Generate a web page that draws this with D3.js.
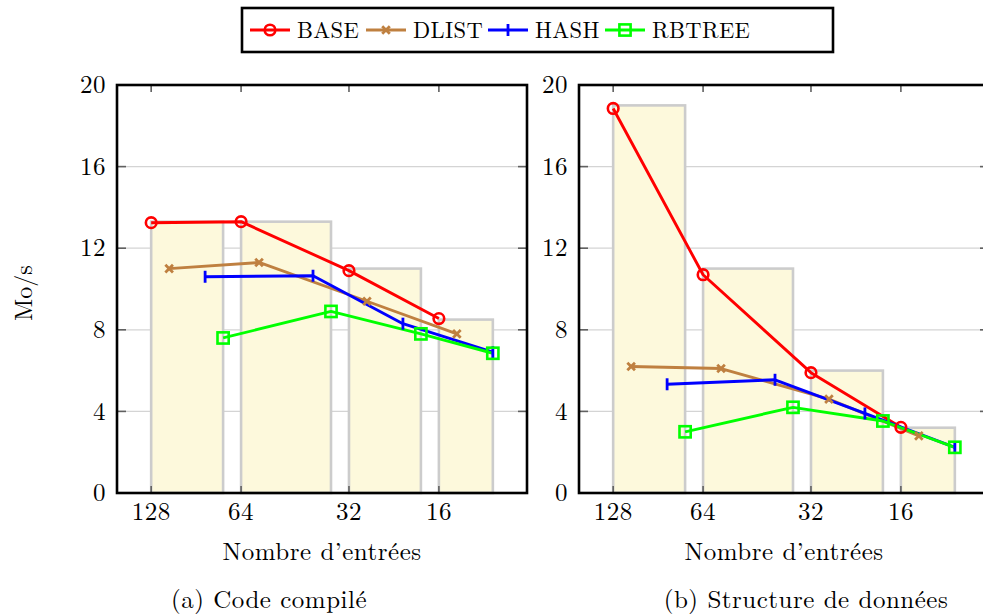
<!DOCTYPE html>
<html>
<head>
<meta charset="utf-8">
<script src="https://cdn.jsdelivr.net/npm/d3@7"></script>
<style>
  html, body { margin: 0; padding: 0; background: #fff; }
  svg { display: block; }
</style>
</head>
<body>
<svg id="chart" width="983" height="615"></svg>
<script>
// Group positions on the x axis (one slot per series inside each group)
const groupTicks = [0, 5, 11, 16];
const tickLabels = ["128", "64", "32", "16"];
const basePos   = [0, 5, 11, 16];
const dlistPos  = [1, 6, 12, 17];
const hashPos   = [3, 9, 14, 19];
const rbtreePos = [4, 10, 15, 19];

// Background bars: one per group, spanning the group
const barStart = [0, 5, 11, 16];
const barEnd   = [4, 10, 15, 19];
const barsCompiled = [13.3, 13.3, 11.0, 8.5];
const barsStruct   = [19.0, 11.0, 6.0, 3.2];

// Throughput (Mo/s) — (a) compiled code
const baseA   = [13.25, 13.3, 10.9, 8.55];
const dlistA  = [11.0, 11.3, 9.4, 7.8];
const hashA   = [10.6, 10.65, 8.3, 6.9];
const rbtreeA = [7.6, 8.9, 7.8, 6.85];

// Throughput (Mo/s) — (b) data structure
const baseB   = [18.85, 10.7, 5.9, 3.22];
const dlistB  = [6.2, 6.1, 4.6, 2.8];
const hashB   = [5.33, 5.55, 3.9, 2.24];
const rbtreeB = [3.0, 4.2, 3.53, 2.24];

const yTicks = [0, 4, 8, 12, 16, 20];

const seriesNames = ["BASE", "DLIST", "HASH", "RBTREE"];
const seriesColors = ["#ff0000", "#bf8040", "#0000ff", "#00ff00"];
const seriesMarks = ["circle", "cross", "bar", "square"];
const seriesPos = [basePos, dlistPos, hashPos, rbtreePos];

const FONT = '"Latin Modern Roman", "Liberation Serif", serif';
const FS = 25;

const svg = d3.select("#chart");

function label(sel, size, spacing) {
  return sel.style("font-family", FONT).style("font-size", size + "px")
    .style("letter-spacing", (spacing || 0) + "px").attr("fill", "#000");
}

function drawMark(g, type, color, x, y) {
  if (type === "circle") {
    g.append("circle").attr("cx", x).attr("cy", y).attr("r", 5.3)
      .attr("fill", "none").attr("stroke", color).attr("stroke-width", 2.6);
  } else if (type === "cross") {
    const s = 3.8;
    g.append("path")
      .attr("d", `M${x - s},${y - s}L${x + s},${y + s}M${x - s},${y + s}L${x + s},${y - s}`)
      .attr("stroke", color).attr("stroke-width", 2.8).attr("fill", "none");
  } else if (type === "bar") {
    g.append("line").attr("x1", x).attr("x2", x).attr("y1", y - 6).attr("y2", y + 6)
      .attr("stroke", color).attr("stroke-width", 2.8);
  } else if (type === "square") {
    g.append("rect").attr("x", x - 5.6).attr("y", y - 5.6).attr("width", 11.2).attr("height", 11.2)
      .attr("fill", "none").attr("stroke", color).attr("stroke-width", 2.6);
  }
}

function panel(left, barVals, seriesVals, caption, captionX) {
  const top = 85, bottom = 493, width = 410;
  const x = d3.scaleLinear().domain([-1.9, 20.9]).range([left, left + width]);
  const y = d3.scaleLinear().domain([0, 20]).range([bottom, top]);
  const g = svg.append("g");

  // horizontal grid
  g.append("g").selectAll("line").data(yTicks.filter(t => t > 0 && t < 20)).join("line")
    .attr("x1", left).attr("x2", left + width)
    .attr("y1", d => y(d)).attr("y2", d => y(d))
    .attr("stroke", "#d4d4d4").attr("stroke-width", 1.3);

  // bars
  g.append("g").selectAll("rect").data(barVals).join("rect")
    .attr("x", (d, i) => x(barStart[i]))
    .attr("width", (d, i) => x(barEnd[i]) - x(barStart[i]))
    .attr("y", d => y(d))
    .attr("height", d => y(0) - y(d))
    .attr("fill", "#fdf9dc").attr("stroke", "#cccccc").attr("stroke-width", 2.6);

  // tick marks (inside, all four sides)
  const tk = g.append("g").attr("stroke", "#606060").attr("stroke-width", 1.6);
  yTicks.filter(t => t > 0 && t < 20).forEach(t => {
    tk.append("line").attr("x1", left).attr("x2", left + 9).attr("y1", y(t)).attr("y2", y(t));
    tk.append("line").attr("x1", left + width - 9).attr("x2", left + width).attr("y1", y(t)).attr("y2", y(t));
  });
  groupTicks.forEach(t => {
    tk.append("line").attr("x1", x(t)).attr("x2", x(t)).attr("y1", bottom).attr("y2", bottom - 7);
    tk.append("line").attr("x1", x(t)).attr("x2", x(t)).attr("y1", top).attr("y2", top + 7);
  });

  // lines
  const line = d3.line().x(d => x(d[0])).y(d => y(d[1]));
  seriesVals.forEach((vals, s) => {
    const pts = vals.map((v, i) => [seriesPos[s][i], v]);
    g.append("path").datum(pts).attr("d", line)
      .attr("fill", "none").attr("stroke", seriesColors[s]).attr("stroke-width", 2.9)
      .attr("stroke-linejoin", "round");
  });
  // markers above all lines
  seriesVals.forEach((vals, s) => {
    vals.forEach((v, i) => drawMark(g, seriesMarks[s], seriesColors[s], x(seriesPos[s][i]), y(v)));
  });

  // frame
  g.append("rect").attr("x", left).attr("y", top).attr("width", width).attr("height", bottom - top)
    .attr("fill", "none").attr("stroke", "#000").attr("stroke-width", 2.6);

  // y tick labels
  label(g.append("g").selectAll("text").data(yTicks).join("text")
    .attr("x", left - 11).attr("y", d => y(d)).attr("dy", "0.33em")
    .attr("text-anchor", "end"), FS, 0.5)
    .text(d => d);

  // x tick labels
  label(g.append("g").selectAll("text").data(groupTicks).join("text")
    .attr("x", d => x(d)).attr("y", 520)
    .attr("text-anchor", "middle"), FS, 0.5)
    .text((d, i) => tickLabels[i]);

  // axis title
  label(g.append("text").attr("x", left + width / 2).attr("y", 560)
    .attr("text-anchor", "middle"), FS, 0.5)
    .text("Nombre d’entrées");

  // caption
  label(g.append("text").attr("x", captionX).attr("y", 608)
    .attr("text-anchor", "middle"), FS, 0.5)
    .text(caption);
}

panel(117, barsCompiled, [baseA, dlistA, hashA, rbtreeA], "(a) Code compilé", 269);
panel(579, barsStruct, [baseB, dlistB, hashB, rbtreeB], "(b) Structure de données", 806);

// y axis title
label(svg.append("text").attr("transform", "translate(32,293) rotate(-90)")
  .attr("text-anchor", "middle"), 24, 0)
  .text("Mo/s");

// legend
const lg = svg.append("g");
lg.append("rect").attr("x", 242).attr("y", 8).attr("width", 591).attr("height", 44)
  .attr("fill", "#fff").attr("stroke", "#000").attr("stroke-width", 2.6);
const legendX = [250, 366, 488, 605];
seriesNames.forEach((name, s) => {
  const lx = legendX[s];
  lg.append("line").attr("x1", lx).attr("x2", lx + 40).attr("y1", 30).attr("y2", 30)
    .attr("stroke", seriesColors[s]).attr("stroke-width", 2.9);
  drawMark(lg, seriesMarks[s], seriesColors[s], lx + 20, 30);
  label(lg.append("text").attr("x", lx + 47).attr("y", 38), 22.5, 0.4)
    .text(name);
});
</script>
</body>
</html>
